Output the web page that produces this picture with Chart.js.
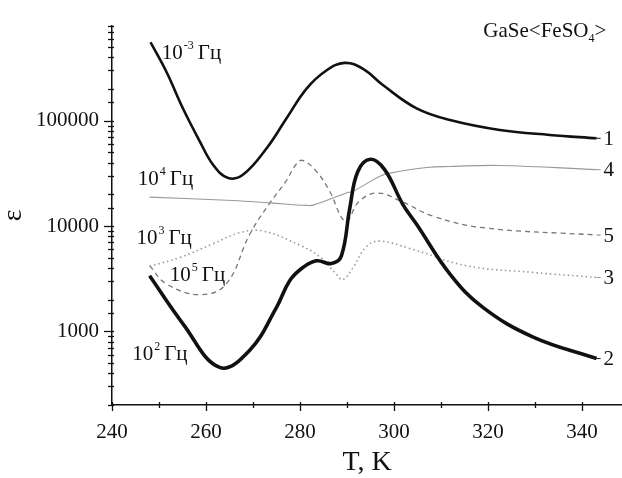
<!DOCTYPE html>
<html>
<head>
<meta charset="utf-8">
<script src="https://cdn.jsdelivr.net/npm/chart.js@4"></script>
<style>
  html, body { margin: 0; padding: 0; background: #fff; }
  #wrap { width: 622px; height: 478px; }
</style>
</head>
<body>
<div id="wrap"><canvas id="epsChart" width="622" height="478"></canvas></div>
<script>
// curve 1: 10^-3 Hz
const t1 = [248.2, 251.6, 255.1, 258.7, 261.5, 264.7, 267.9, 272.9, 277.1, 281.4, 285.6, 289.5, 293.4, 297.7, 304.8, 311.9, 322.5, 333.1, 343.1];
const eps1 = [556000, 290000, 130600, 63400, 38200, 28600, 30800, 54800, 105000, 202000, 300000, 354000, 311000, 217000, 131000, 101600, 81700, 73300, 68100];
// curve 2: 10^2 Hz
const t2 = [248.0, 255.1, 262.9, 269.3, 275.0, 277.8, 280.6, 283.5, 286.7, 288.8, 290.6, 292.3, 295.0, 298.0, 301.9, 304.8, 311.9, 318.9, 329.6, 343.1];
const eps2 = [3370, 1180, 455, 663, 1690, 3030, 4040, 4680, 4410, 5210, 14900, 33000, 43000, 34300, 16000, 10400, 3500, 1690, 883, 552];
// curve 3: 10^3 Hz
const t3 = [248.0, 254.4, 261.4, 267.2, 272.1, 280.2, 284.2, 287.7, 289.1, 291.3, 294.0, 296.8, 303.5, 315.4, 329.6, 343.1];
const eps3 = [4150, 5020, 6760, 8650, 8970, 6500, 5100, 3500, 3100, 4040, 6300, 7200, 6100, 4200, 3630, 3250];
// curve 4: 10^4 Hz
const t4 = [248.0, 265.7, 273.6, 281.4, 282.8, 289.9, 291.3, 297.0, 299.1, 306.9, 311.9, 322.5, 343.1];
const eps4 = [18800, 17500, 16600, 15700, 15800, 20600, 21400, 29700, 31800, 36000, 36800, 37600, 34300];
// curve 5: 10^5 Hz
const t5 = [248.0, 251.6, 258.7, 264.3, 269.3, 273.6, 277.0, 279.1, 280.5, 283.5, 286.3, 289.7, 292.5, 296.3, 301.5, 308.3, 318.9, 343.1];
const eps5 = [4200, 2820, 2230, 2820, 8360, 16600, 26600, 38200, 42000, 33000, 21400, 11100, 17000, 20600, 17200, 12400, 9640, 8220];

const curveNums = ['1', '2', '3', '4', '5'];
const xTicks = [240, 260, 280, 300, 320, 340];
const yTicks = [1000, 10000, 100000];

// frequency labels: [T, eps, exponent]
const freqLabels = [
  [250.6, 385000, '-3'],
  [245.5, 24700, '4'],
  [245.2, 6810, '3'],
  [252.3, 3030, '5'],
  [244.3, 532, '2']
];

const serif = '"Liberation Serif", "DejaVu Serif", serif';
const ink = '#111';

function pts(ts, es) {
  return ts.map((t, i) => ({ x: t, y: es[i] }));
}

const labelPlugin = {
  id: 'labels',
  afterDraw(chart) {
    const c = chart.ctx;
    const xs = chart.scales.x, ys = chart.scales.y;
    const area = chart.chartArea;
    c.save();
    c.strokeStyle = ink;
    c.lineWidth = 1.3;
    // y tick marks (major + minor)
    ys.ticks.forEach(tk => {
      const y = Math.round(ys.getPixelForValue(tk.value)) + 0.5;
      const major = yTicks.includes(tk.value);
      c.beginPath();
      c.moveTo(area.left - (major ? 8 : 4), y);
      c.lineTo(area.left + 2, y);
      c.stroke();
    });
    // x tick marks
    xs.ticks.forEach(tk => {
      const x = Math.round(xs.getPixelForValue(tk.value)) + 0.5;
      const major = xTicks.includes(tk.value);
      c.beginPath();
      c.moveTo(x, area.bottom - 3);
      c.lineTo(x, area.bottom + (major ? 6 : 3));
      c.stroke();
    });

    c.fillStyle = ink;
    c.textBaseline = 'alphabetic';
    c.textAlign = 'left';
    // frequency labels with superscripts
    freqLabels.forEach(([t, e, p]) => {
      let x = xs.getPixelForValue(t);
      const y = ys.getPixelForValue(e);
      c.font = '21px ' + serif;
      c.fillText('10', x, y);
      x += c.measureText('10').width + 1;
      c.font = '12px ' + serif;
      c.fillText(p, x, y - 10);
      x += c.measureText(p).width + 4;
      c.font = '21px ' + serif;
      c.fillText('Гц', x, y);
    });
    // sample name
    let gx = xs.getPixelForValue(319);
    const gy = ys.getPixelForValue(620000);
    c.font = '21px ' + serif;
    c.fillText('GaSe<FeSO', gx, gy);
    gx += c.measureText('GaSe<FeSO').width;
    c.font = '12px ' + serif;
    c.fillText('4', gx, gy + 5);
    gx += c.measureText('4').width;
    c.font = '21px ' + serif;
    c.fillText('>', gx, gy);
    // curve numbers at line ends
    c.font = '21px ' + serif;
    c.textBaseline = 'middle';
    chart.data.datasets.forEach((ds, i) => {
      const meta = chart.getDatasetMeta(i);
      const last = meta.data[meta.data.length - 1];
      c.beginPath();
      c.lineWidth = 1;
      c.strokeStyle = ds.borderColor;
      c.moveTo(last.x, last.y);
      c.lineTo(last.x + 4, last.y);
      c.stroke();
      c.fillText(curveNums[i], last.x + 7, last.y + 1);
    });
    c.restore();
  }
};

new Chart(document.getElementById('epsChart').getContext('2d'), {
  type: 'line',
  data: {
    datasets: [
      { data: pts(t1, eps1), borderColor: '#111', borderWidth: 2.6 },
      { data: pts(t2, eps2), borderColor: '#111', borderWidth: 3.6 },
      { data: pts(t3, eps3), borderColor: '#9a9a9a', borderWidth: 1.6, borderDash: [1.5, 3] },
      { data: pts(t4, eps4), borderColor: '#999', borderWidth: 1.1 },
      { data: pts(t5, eps5), borderColor: '#777', borderWidth: 1.3, borderDash: [5, 4] }
    ].map(d => Object.assign(d, {
      fill: false,
      pointRadius: 0,
      tension: 0.4
    }))
  },
  options: {
    responsive: false,
    animation: false,
    layout: { padding: { top: 23, right: 0, left: 0, bottom: 0 } },
    plugins: { legend: { display: false }, tooltip: { enabled: false } },
    scales: {
      x: {
        type: 'linear',
        min: 240,
        max: 348.5,
        afterFit: s => { s.height = 73; },
        grid: { display: false, drawTicks: false },
        border: { display: true, color: ink, width: 1.5 },
        ticks: {
          stepSize: 10,
          includeBounds: false,
          autoSkip: false,
          maxRotation: 0,
          padding: 15,
          color: ink,
          font: { family: serif, size: 21 },
          callback: v => xTicks.includes(v) ? String(v) : ''
        },
        title: {
          display: true,
          text: 'T, K',
          color: ink,
          padding: 0,
          font: { family: serif, size: 28, lineHeight: 1.1 }
        }
      },
      y: {
        type: 'logarithmic',
        min: 200,
        max: 800000,
        afterFit: s => { s.width = 112; },
        grid: { display: false, drawTicks: false },
        border: { display: true, color: ink, width: 1.5 },
        ticks: {
          autoSkip: false,
          padding: 13,
          color: ink,
          font: { family: serif, size: 21 },
          callback: v => yTicks.includes(v) ? String(v) : ''
        },
        title: {
          display: true,
          text: 'ε',
          color: ink,
          padding: 0,
          font: { family: serif, size: 28, lineHeight: 1 }
        }
      }
    }
  },
  plugins: [labelPlugin]
});
</script>
</body>
</html>
